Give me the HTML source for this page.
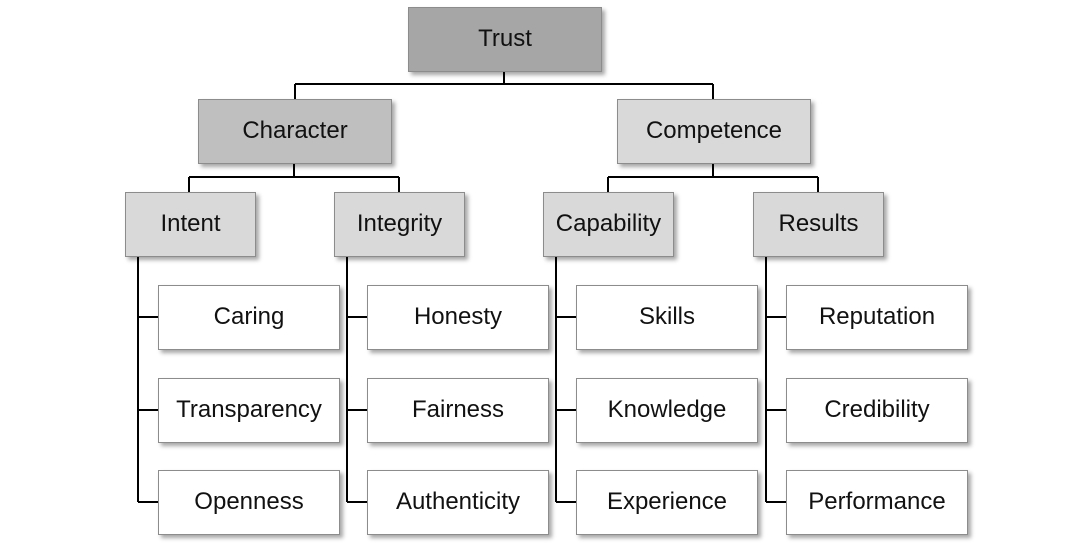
<!DOCTYPE html>
<html><head><style>
body{margin:0;width:1091px;height:551px;background:#fff;position:relative;overflow:hidden;font-family:"Liberation Sans",sans-serif;}
.b{position:absolute;box-sizing:border-box;border:1px solid #8c8c8c;display:flex;align-items:center;justify-content:center;font-size:24px;color:#111;box-shadow:3px 3px 4px rgba(0,0,0,0.35);padding-bottom:2px;}
svg{position:absolute;left:0;top:0;}
</style></head><body>
<svg width="1091" height="551">
<g stroke="#000" stroke-width="2" fill="none">
<path d="M504 71V84M295 84H713M295 84V99M713 84V99"/>
<path d="M294 164V177M189 177H399M189 177V192M399 177V192"/>
<path d="M713 164V177M608 177H818M608 177V192M818 177V192"/>
<path d="M138 257V502M138 317H158M138 410H158M138 502H158"/>
<path d="M347 257V502M347 317H367M347 410H367M347 502H367"/>
<path d="M556 257V502M556 317H576M556 410H576M556 502H576"/>
<path d="M766 257V502M766 317H786M766 410H786M766 502H786"/>
</g></svg>
<div class="b" style="left:408px;top:7px;width:194px;height:65px;background:#a6a6a6">Trust</div>
<div class="b" style="left:198px;top:99px;width:194px;height:65px;background:#bfbfbf">Character</div>
<div class="b" style="left:617px;top:99px;width:194px;height:65px;background:#d9d9d9">Competence</div>
<div class="b" style="left:125px;top:192px;width:131px;height:65px;background:#d9d9d9">Intent</div>
<div class="b" style="left:334px;top:192px;width:131px;height:65px;background:#d9d9d9">Integrity</div>
<div class="b" style="left:543px;top:192px;width:131px;height:65px;background:#d9d9d9">Capability</div>
<div class="b" style="left:753px;top:192px;width:131px;height:65px;background:#d9d9d9">Results</div>

<div class="b" style="left:158px;top:285px;width:182px;height:65px;background:#fff">Caring</div>
<div class="b" style="left:158px;top:378px;width:182px;height:65px;background:#fff">Transparency</div>
<div class="b" style="left:158px;top:470px;width:182px;height:65px;background:#fff">Openness</div>
<div class="b" style="left:367px;top:285px;width:182px;height:65px;background:#fff">Honesty</div>
<div class="b" style="left:367px;top:378px;width:182px;height:65px;background:#fff">Fairness</div>
<div class="b" style="left:367px;top:470px;width:182px;height:65px;background:#fff">Authenticity</div>
<div class="b" style="left:576px;top:285px;width:182px;height:65px;background:#fff">Skills</div>
<div class="b" style="left:576px;top:378px;width:182px;height:65px;background:#fff">Knowledge</div>
<div class="b" style="left:576px;top:470px;width:182px;height:65px;background:#fff">Experience</div>
<div class="b" style="left:786px;top:285px;width:182px;height:65px;background:#fff">Reputation</div>
<div class="b" style="left:786px;top:378px;width:182px;height:65px;background:#fff">Credibility</div>
<div class="b" style="left:786px;top:470px;width:182px;height:65px;background:#fff">Performance</div>
</body></html>
